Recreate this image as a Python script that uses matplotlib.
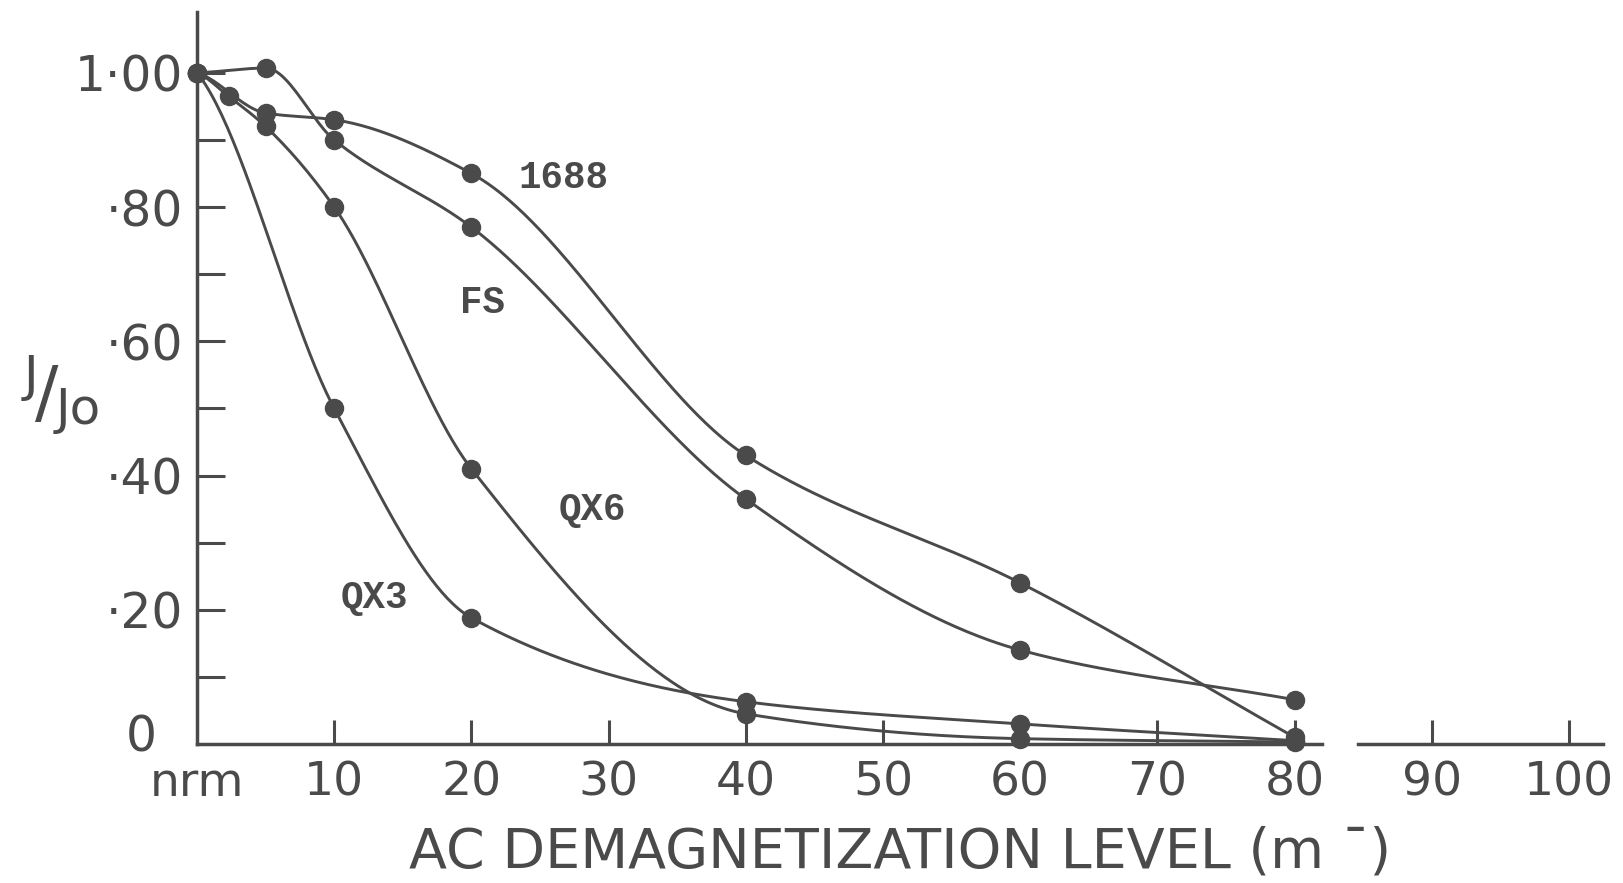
import matplotlib
matplotlib.use("Agg")
import matplotlib.pyplot as plt
import numpy as np

# values (x = AC demag level, y = J/Jo)
x_1688 = [0, 5, 10, 20, 40, 60, 80]
y_1688 = [1.00, 0.94, 0.93, 0.85, 0.43, 0.24, 0.01]

x_fs = [0, 5, 10, 20, 40, 60, 80]
y_fs = [1.00, 1.007, 0.90, 0.77, 0.365, 0.14, 0.066]

x_qx6 = [0, 2.3, 5, 10, 20, 40, 60, 80]
y_qx6 = [1.00, 0.965, 0.92, 0.80, 0.41, 0.045, 0.008, 0.003]

x_qx3 = [0, 10, 20, 40, 60, 80]
y_qx3 = [1.00, 0.50, 0.188, 0.063, 0.03, 0.005]

x_ticks = [0, 10, 20, 30, 40, 50, 60, 70, 80, 90, 100]
x_ticklabels = ['nrm', '10', '20', '30', '40', '50', '60', '70', '80', '90', '100']
y_ticks = [0, 0.2, 0.4, 0.6, 0.8, 1.0]
y_ticklabels = ['', '·20', '·40', '·60', '·80', '1·00']

ink = '#4a4a4a'


def pchip(x, y, xs):
    # smooth cubic through the points, like the hand-drawn curves
    x = np.asarray(x, float)
    y = np.asarray(y, float)
    h = np.diff(x)
    d = np.diff(y) / h
    m = np.zeros_like(y)
    for k in range(1, len(x) - 1):
        if d[k - 1] * d[k] > 0:
            w1 = 2 * h[k] + h[k - 1]
            w2 = h[k] + 2 * h[k - 1]
            m[k] = (w1 + w2) / (w1 / d[k - 1] + w2 / d[k])
    m[0] = 0.5 * d[0]
    m[-1] = d[-1]
    i = np.clip(np.searchsorted(x, xs) - 1, 0, len(x) - 2)
    t = (xs - x[i]) / h[i]
    h00 = 2 * t**3 - 3 * t**2 + 1
    h10 = t**3 - 2 * t**2 + t
    h01 = -2 * t**3 + 3 * t**2
    h11 = t**3 - t**2
    return h00 * y[i] + h10 * h[i] * m[i] + h01 * y[i + 1] + h11 * h[i] * m[i + 1]


fig = plt.figure(figsize=(16.24, 8.83), dpi=100)
ax = fig.add_axes([0.1213, 0.1574, 0.866, 0.8286])
ax.set_xlim(0, 102.5)
ax.set_ylim(0, 1.09)

for xs, ys in [(x_1688, y_1688), (x_fs, y_fs), (x_qx6, y_qx6), (x_qx3, y_qx3)]:
    xx = np.linspace(xs[0], xs[-1], 400)
    ax.plot(xx, pchip(xs, ys, xx), color=ink, lw=2.1, clip_on=False)
    ax.plot(xs, ys, 'o', color=ink, ms=13, clip_on=False, zorder=5)

# curve labels
lab_font = dict(family='Liberation Mono', fontsize=27, fontweight='bold', color=ink,
                ha='center', va='center')
ax.text(26.7, 0.843, '1688', **lab_font)
ax.text(20.8, 0.657, 'FS', **lab_font)
ax.text(28.8, 0.349, 'QX6', **lab_font)
ax.text(12.9, 0.218, 'QX3', **lab_font)

# axes: left spine and broken bottom axis
for s in ['top', 'right', 'bottom']:
    ax.spines[s].set_visible(False)
ax.spines['left'].set_color(ink)
ax.spines['left'].set_linewidth(2.5)
ax.axhline(0, xmin=0, xmax=82.0 / 102.5, color=ink, lw=2.5, clip_on=False)
ax.axhline(0, xmin=84.6 / 102.5, xmax=1, color=ink, lw=2.5, clip_on=False)

ax.set_xticks(x_ticks)
ax.set_xticklabels(x_ticklabels)
ax.set_yticks(y_ticks)
ax.set_yticklabels(y_ticklabels)
ax.set_yticks(np.arange(0.1, 1.0, 0.2), minor=True)
ax.tick_params(axis='x', direction='in', length=17, width=2.2, color=ink,
               labelsize=34, labelcolor=ink, pad=12)
ax.tick_params(axis='y', which='both', direction='in', length=20, width=2.2, color=ink,
               labelsize=35, labelcolor=ink, pad=10)
ax.xaxis.get_ticklines()[0].set_visible(False)
ax.yaxis.get_ticklines()[0].set_visible(False)

# the "0" of the y axis sits a little up and left of the corner
ax.annotate('0', xy=(0, 0), xytext=(-40, 5), textcoords='offset points',
            fontsize=35, color=ink, ha='center', va='center', annotation_clip=False)

ax.set_xlabel('AC DEMAGNETIZATION LEVEL (m ˉ)', fontsize=40, color=ink, labelpad=14)

# J/Jo label
fig.text(31 / 1624, 1 - 377 / 883, 'J', fontsize=36, color=ink, ha='center', va='center')
fig.text(47 / 1624, 1 - 396 / 883, '/', fontsize=50, color=ink, ha='center', va='center')
fig.text(78 / 1624, 1 - 410 / 883, 'Jo', fontsize=36, color=ink, ha='center', va='center')

fig.savefig('out.png', dpi=100)
